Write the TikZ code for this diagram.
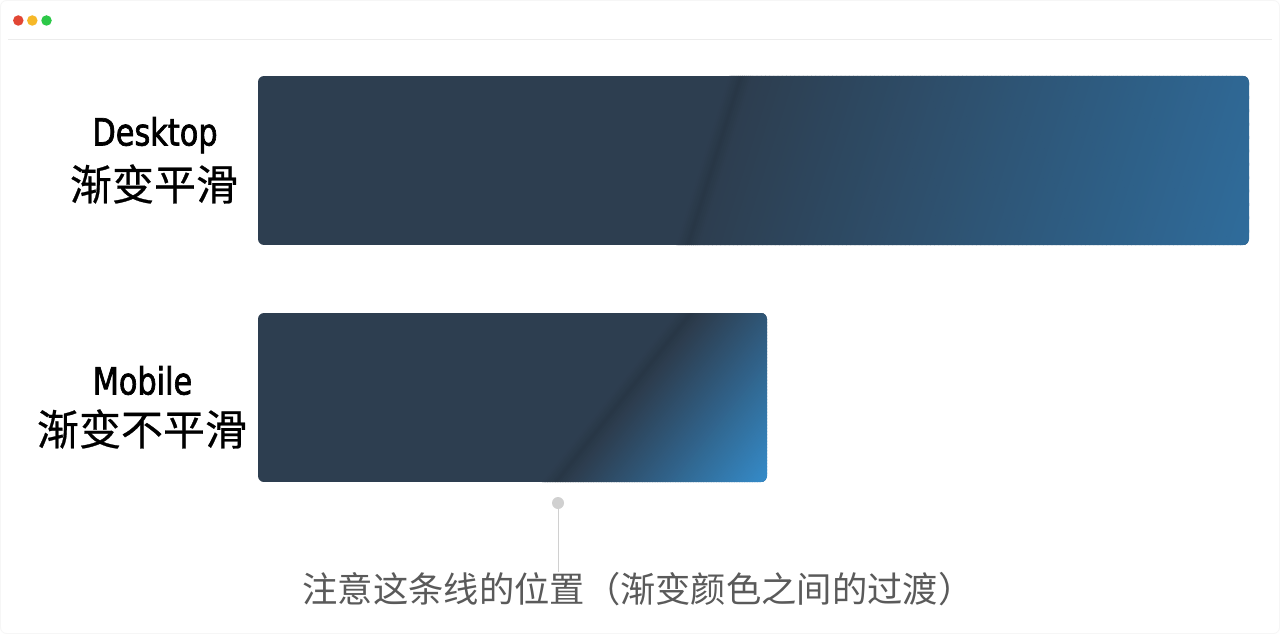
\documentclass[tikz,border=0pt]{standalone}
\usepackage{fontspec}
\newfontfamily\cjk[FakeBold=0.6]{Noto Sans CJK SC}
\newfontfamily\cjknote{Noto Sans CJK SC}
\newfontfamily\latin[FakeStretch=0.90,FakeBold=1.8]{DejaVu Sans Condensed}
\definecolor{bardark}{RGB}{45,62,80}
\definecolor{barstripe}{RGB}{40,55,70}
\definecolor{desklight}{RGB}{47,109,157}
\definecolor{moblight}{RGB}{53,142,206}
\definecolor{textgray}{RGB}{90,90,90}
\definecolor{ptrgray}{RGB}{208,208,208}
\definecolor{sepgray}{RGB}{236,236,236}
\definecolor{dotred}{RGB}{226,70,52}
\definecolor{dotyellow}{RGB}{246,184,40}
\definecolor{dotgreen}{RGB}{44,200,72}
\tikzset{
  wdot/.style={circle, inner sep=0pt, minimum size=10.5pt},
  enlabel/.style={font=\latin\fontsize{37.5}{37.5}\selectfont, text=black, inner sep=0pt, anchor=base},
  zhlabel/.style={font=\cjk\fontsize{42}{42}\selectfont, text=black, inner sep=0pt},
  notelabel/.style={font=\cjknote\fontsize{35.3}{35.3}\selectfont, text=textgray, inner sep=0pt},
}
\begin{document}
\begin{tikzpicture}[x=1pt,y=-1pt]
\useasboundingbox (0,0) rectangle (1280,634);
\fill[white] (0,0) rectangle (1280,634);
\draw[sepgray!50, line width=0.8pt, rounded corners=6pt] (0.5,0.5) rectangle (1279.5,633.5);
\draw[sepgray, line width=1pt] (8,39.5) -- (1272,39.5);
\node[wdot, fill=dotred] (r) at (18.3,20.5) {};
\node[wdot, fill=dotyellow] (y) at (32.3,20.5) {};
\node[wdot, fill=dotgreen] (g) at (46.5,20.5) {};

% Desktop bar
\begin{scope}
\clip[rounded corners=6pt] (258,76) rectangle (1249,245);
\fill[bardark] (258,76) rectangle (1249,245);
\begin{scope}[rotate around={-17.4:(687,245)}]
  \foreach \i in {0,...,10} {
    \pgfmathsetmacro\p{100*(1-abs(\i-5)/5.5)}
    \fill[barstripe!\p!bardark] ({677+2*\i},-300) rectangle ({679.6+2*\i},800);
  }
  \foreach \i in {0,...,133} {
    \pgfmathsetmacro\p{100*\i/133}
    \fill[desklight!\p!bardark] ({699+4*\i},-300) rectangle ({703.6+4*\i},800);
  }
  \fill[desklight] (1235,-300) rectangle (1700,800);
\end{scope}
\end{scope}

% Mobile bar
\begin{scope}
\clip[rounded corners=6pt] (258,313) rectangle (767,482);
\fill[bardark] (258,313) rectangle (767,482);
\begin{scope}[rotate around={-38.6:(555,482)}]
  \foreach \i in {0,...,10} {
    \pgfmathsetmacro\p{100*(1-abs(\i-5)/5.5)}
    \fill[barstripe!\p!bardark] ({545+2*\i},0) rectangle ({547.6+2*\i},900);
  }
  \foreach \i in {0,...,79} {
    \pgfmathsetmacro\p{100*\i/79}
    \fill[moblight!\p!bardark] ({567+2*\i},0) rectangle ({569.6+2*\i},900);
  }
  \fill[moblight] (727,0) rectangle (1100,900);
\end{scope}
\end{scope}

\node[enlabel] (den) at (155,145.5) {Desktop};
\node[zhlabel] (dzh) at (154,184) {渐变平滑};
\node[enlabel] (men) at (142.5,394.5) {Mobile};
\node[zhlabel] (mzh) at (142,429) {渐变不平滑};

\node[notelabel] (note) at (638,589) {注意这条线的位置（渐变颜色之间的过渡）};
\node[circle, fill=ptrgray, inner sep=0pt, minimum size=12pt] (ptr) at (558,503) {};
\draw[ptrgray, line width=1pt] (ptr) -- (ptr |- note.north);
\end{tikzpicture}
\end{document}
